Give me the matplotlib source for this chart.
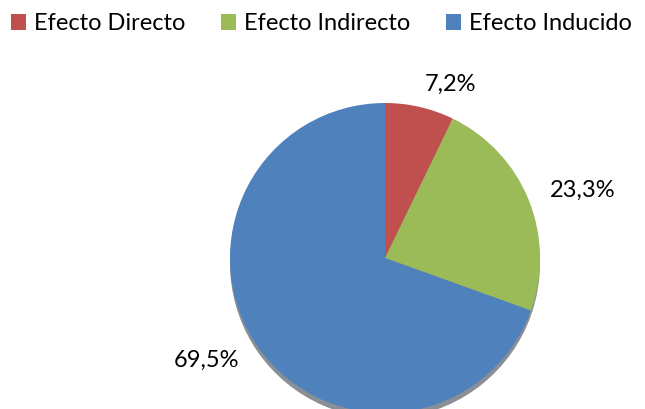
import matplotlib
matplotlib.use("Agg")
import matplotlib.pyplot as plt
from matplotlib.patches import Patch

plt.rcParams['font.family'] = ['Lato', 'DejaVu Sans']

# datos
categorias = ['Efecto Directo', 'Efecto Indirecto', 'Efecto Inducido']
valores = [7.2, 23.3, 69.5]
colores = ['#C0504D', '#9BBB59', '#4F81BD']
etiquetas = [f"{v:.1f}%".replace('.', ',') for v in valores]

W, H = 645, 409
fig = plt.figure(figsize=(W / 100, H / 100), dpi=100)
fig.patch.set_facecolor('white')

# eje del pastel: centro (385, 258), radio 155 px
r = 155
cx, cy = 385, 258
ax = fig.add_axes([(cx - r) / W, (H - cy - r) / H, 2 * r / W, 2 * r / H])

wedges, textos = ax.pie(valores, colors=colores, startangle=90, counterclock=False,
                        labels=etiquetas, labeldistance=1.15, radius=1,
                        shadow={'ox': 0, 'oy': -0.025, 'shade': 0.75},
                        textprops={'fontsize': 17, 'color': 'black'},
                        wedgeprops={'linewidth': 0})
ax.set_xlim(-1, 1)
ax.set_ylim(-1, 1)
ax.set_aspect('equal')
ax.axis('off')
for p in ax.patches:
    p.set_clip_on(False)

handles = [Patch(facecolor=c, edgecolor='none') for c in colores]
fig.legend(handles, categorias, loc='upper left', bbox_to_anchor=(11 / W, 1 - 13 / H),
           ncol=3, frameon=False, fontsize=17, handlelength=0.64, handleheight=0.64,
           handletextpad=0.34, columnspacing=1.5, borderaxespad=0, borderpad=0)

fig.savefig('out.png', dpi=100)
